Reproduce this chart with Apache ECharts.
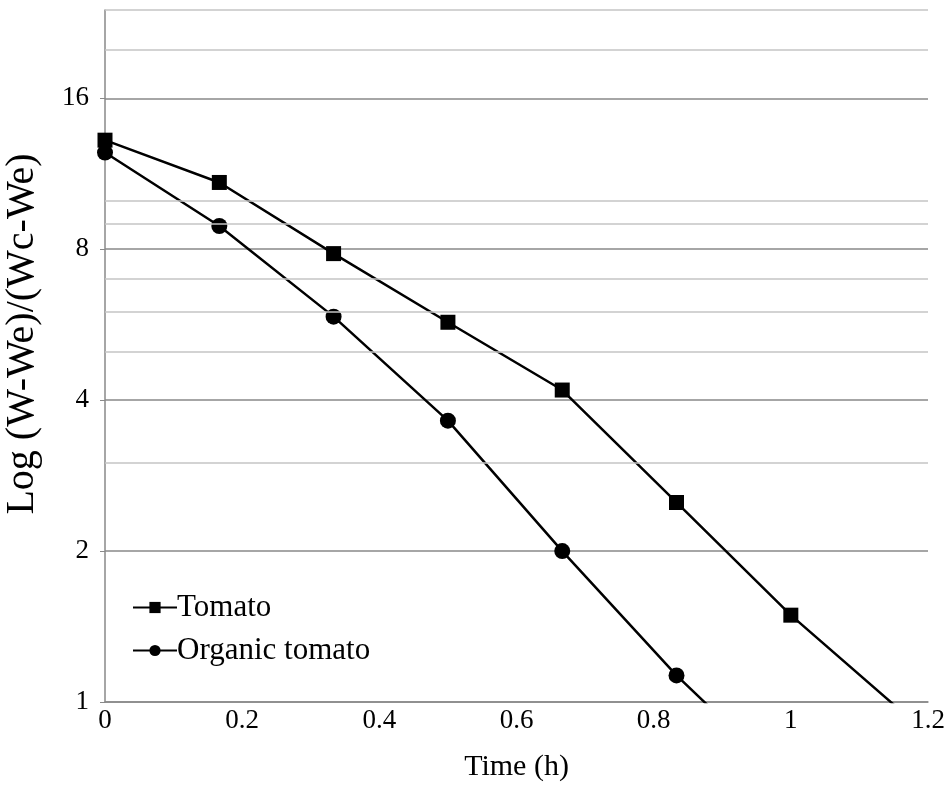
<!DOCTYPE html>
<html>
<head>
<meta charset="utf-8">
<script src="https://cdn.jsdelivr.net/npm/echarts@6/dist/echarts.min.js"></script>
<style>
  html, body { margin: 0; padding: 0; background: #fff; }
  #chart { width: 950px; height: 801px; }
</style>
</head>
<body>
<div id="chart"></div>
<script>
// time (h) of each reading
var time = [0, 0.1667, 0.3333, 0.5, 0.6667, 0.8333, 1.0, 1.1667];
// (W-We)/(Wc-We), plotted on a log2 axis
var tomato = [13.2, 10.87, 7.84, 5.72, 4.19, 2.5, 1.49, 0.944];
var organicTomato = [12.47, 8.9, 5.87, 3.64, 2.0, 1.13, 0.684];
// labelled ticks on the y axis
var yTicks = [1, 2, 4, 8, 16];
var yMax = 24;
// extra (lighter) gridlines the original chart shows between the labelled ticks
var minorGrid = [3, 5, 6, 7, 9, 10, 20];

var font = "Liberation Serif";

function pairs(xs, ys) {
  return ys.map(function (y, i) { return [xs[i], y]; });
}

var chart = echarts.init(document.getElementById("chart"));

var option = {
  backgroundColor: "#fff",
  animation: false,
  textStyle: { fontFamily: font, color: "#000" },
  grid: { left: 105, right: 22, top: 10, bottom: 99, outerBoundsMode: "none", containLabel: false },
  legend: {
    orient: "vertical",
    left: 127,
    top: 587,
    itemGap: 12,
    itemWidth: 44,
    itemHeight: 14,
    textStyle: { fontFamily: font, fontSize: 31, color: "#000", padding: [0, 0, 0, -5] },
    data: ["Tomato", "Organic tomato"]
  },
  xAxis: {
    type: "value",
    min: 0,
    max: 1.2,
    interval: 0.2,
    name: "Time (h)",
    nameLocation: "middle",
    nameGap: 50,
    nameTextStyle: { fontFamily: font, fontSize: 30, color: "#000" },
    axisLine: { lineStyle: { color: "#898989", width: 1.5 } },
    axisTick: { show: false },
    axisLabel: { fontFamily: font, fontSize: 27, color: "#000", margin: 5 },
    splitLine: { show: false }
  },
  yAxis: {
    type: "log",
    logBase: 2,
    min: 1,
    max: yMax,
    name: "Log (W-We)/(Wc-We)",
    nameLocation: "middle",
    nameGap: 63,
    nameTextStyle: { fontFamily: font, fontSize: 40, color: "#000", padding: [0, 0, 0, 44] },
    axisLine: { show: true, lineStyle: { color: "#898989", width: 1.5 } },
    axisTick: { show: true, customValues: yTicks, length: 5, lineStyle: { color: "#898989" } },
    axisLabel: {
      customValues: yTicks,
      fontFamily: font,
      fontSize: 27,
      color: "#000",
      margin: 16
    },
    splitLine: {
      show: true,
      lineStyle: { color: "#898989", width: 1.5 }
    }
  },
  series: [
    {
      // carries only the lighter gridlines (and the top edge), under the data
      type: "line",
      data: [],
      silent: true,
      z: 1,
      markLine: {
        silent: true,
        symbol: "none",
        label: { show: false },
        lineStyle: { type: "solid", color: "#c4c4c4", width: 1.5 },
        data: minorGrid.concat([yMax]).map(function (v) { return { yAxis: v }; })
      }
    },
    {
      name: "Tomato",
      type: "line",
      z: 3,
      data: pairs(time, tomato),
      symbol: "rect",
      symbolSize: 15,
      clip: true,
      lineStyle: { color: "#000", width: 2.5 },
      itemStyle: { color: "#000" }
    },
    {
      name: "Organic tomato",
      type: "line",
      z: 3,
      data: pairs(time, organicTomato),
      symbol: "circle",
      symbolSize: 16,
      clip: true,
      lineStyle: { color: "#000", width: 2.5 },
      itemStyle: { color: "#000" }
    }
  ]
};

chart.setOption(option);
</script>
</body>
</html>
